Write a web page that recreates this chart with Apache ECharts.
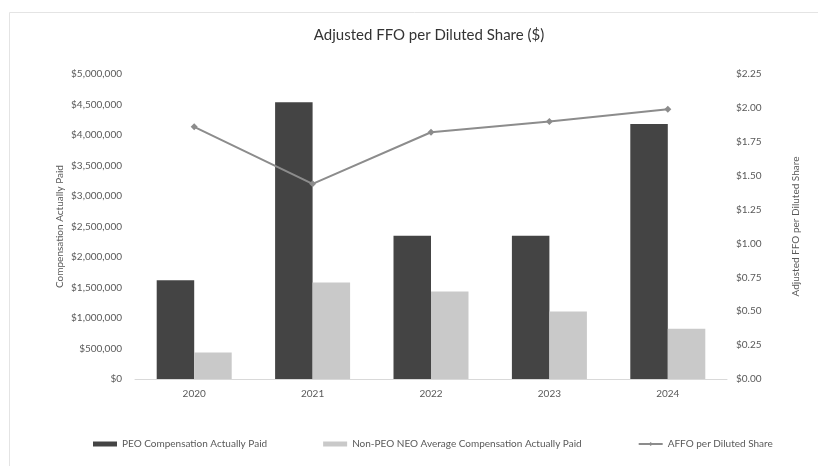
<!DOCTYPE html>
<html>
<head>
<meta charset="utf-8">
<title>Adjusted FFO per Diluted Share ($)</title>
<script src="https://cdn.jsdelivr.net/npm/echarts@6/dist/echarts.min.js"></script>
<style>
  html, body { margin: 0; padding: 0; background: #ffffff; }
  #chart { width: 818px; height: 466px; }
</style>
</head>
<body>
<div id="chart"></div>
<script>
// Fiscal years shown on the category axis
const years = ['2020', '2021', '2022', '2023', '2024'];

// Compensation actually paid (USD)
const peoCap = [1620000, 4535000, 2350000, 2350000, 4180000];
const nonPeoNeoAvgCap = [436000, 1584000, 1436000, 1108000, 825000];

// Adjusted FFO per diluted share (USD)
const affoPerShare = [1.86, 1.44, 1.82, 1.90, 1.99];

// Axis ranges and steps
const compAxis = { min: 0, max: 5000000, interval: 500000 };
const affoAxis = { min: 0, max: 2.25, interval: 0.25 };

const FONT = 'Lato, "Open Sans", sans-serif';
const TEXT = '#595959';

function money(v) {
  return '$' + Math.round(v).toLocaleString('en-US');
}

const chart = echarts.init(document.getElementById('chart'), null, { renderer: 'canvas' });

chart.setOption({
  animation: false,
  backgroundColor: '#ffffff',
  textStyle: { fontFamily: FONT },
  graphic: [{
    type: 'rect',
    shape: { x: 9.5, y: 12.5, width: 830, height: 480 },
    style: { fill: 'none', stroke: '#e4e4e4', lineWidth: 1 },
    silent: true,
    z: -10
  }],
  title: {
    text: 'Adjusted FFO per Diluted Share ($)',
    left: 424,
    textAlign: 'center',
    top: 23,
    textStyle: { fontFamily: FONT, fontSize: 15, fontWeight: 'normal', color: '#333333' }
  },
  grid: { left: 135, right: 91, top: 74, bottom: 87, containLabel: false },
  legend: {
    left: 88,
    top: 434,
    itemGap: 56,
    itemWidth: 24,
    itemHeight: 5,
    textStyle: { fontFamily: FONT, fontSize: 10, color: TEXT },
    data: [
      { name: 'PEO Compensation Actually Paid', icon: 'rect' },
      { name: 'Non-PEO NEO Average Compensation Actually Paid', icon: 'rect' },
      { name: 'AFFO per Diluted Share' }
    ]
  },
  xAxis: {
    type: 'category',
    data: years,
    axisLine: { show: true, lineStyle: { color: '#d9d9d9', width: 1 } },
    axisTick: { show: false },
    axisLabel: { fontFamily: FONT, fontSize: 10, color: TEXT, margin: 10 }
  },
  yAxis: [
    {
      type: 'value',
      min: compAxis.min,
      max: compAxis.max,
      interval: compAxis.interval,
      name: 'Compensation Actually Paid',
      nameLocation: 'middle',
      nameGap: 70,
      nameMoveOverlap: false,
      nameRotate: 90,
      nameTextStyle: { fontFamily: FONT, fontSize: 10, color: TEXT },
      axisLine: { show: false },
      axisTick: { show: false },
      splitLine: { show: false },
      axisLabel: { fontFamily: FONT, fontSize: 10, color: TEXT, margin: 13, formatter: money }
    },
    {
      type: 'value',
      min: affoAxis.min,
      max: affoAxis.max,
      interval: affoAxis.interval,
      name: 'Adjusted FFO per Diluted Share',
      nameLocation: 'middle',
      nameGap: 64,
      nameMoveOverlap: false,
      nameRotate: 90,
      nameTextStyle: { fontFamily: FONT, fontSize: 10, color: TEXT },
      axisLine: { show: false },
      axisTick: { show: false },
      splitLine: { show: false },
      axisLabel: {
        fontFamily: FONT, fontSize: 10, color: TEXT, margin: 9,
        formatter: v => '$' + v.toFixed(2)
      }
    }
  ],
  series: [
    {
      name: 'PEO Compensation Actually Paid',
      type: 'bar',
      yAxisIndex: 0,
      data: peoCap,
      barWidth: 37.5,
      barGap: '0%',
      itemStyle: { color: '#444444' }
    },
    {
      name: 'Non-PEO NEO Average Compensation Actually Paid',
      type: 'bar',
      yAxisIndex: 0,
      data: nonPeoNeoAvgCap,
      barWidth: 37.5,
      barGap: '0%',
      itemStyle: { color: '#c9c9c9' }
    },
    {
      name: 'AFFO per Diluted Share',
      type: 'line',
      yAxisIndex: 1,
      data: affoPerShare,
      symbol: 'diamond',
      symbolSize: 7,
      lineStyle: { color: '#8c8c8c', width: 2 },
      itemStyle: { color: '#8c8c8c' },
      z: 5
    }
  ]
});
</script>
</body>
</html>
